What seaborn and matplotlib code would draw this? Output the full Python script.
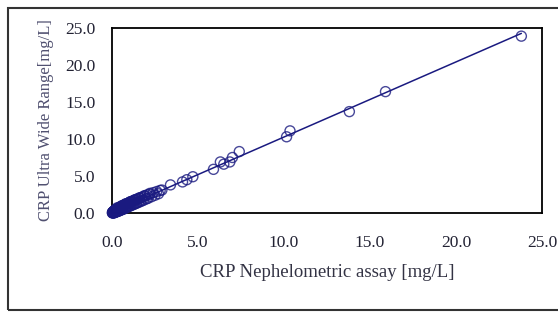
import numpy as np
import pandas as pd
import seaborn as sns
import matplotlib.pyplot as plt
from matplotlib.patches import Rectangle

# CRP values [mg/L]
nephelometric = [
    0.02, 0.03, 0.04, 0.05, 0.05, 0.06, 0.07, 0.08, 0.08, 0.09,
    0.10, 0.10, 0.11, 0.12, 0.13, 0.14, 0.15, 0.15, 0.16, 0.18,
    0.19, 0.20, 0.21, 0.22, 0.24, 0.25, 0.26, 0.28, 0.29, 0.30,
    0.32, 0.33, 0.35, 0.36, 0.38, 0.40, 0.41, 0.43, 0.45, 0.47,
    0.48, 0.50, 0.52, 0.55, 0.57, 0.58, 0.60, 0.62, 0.65, 0.68,
    0.70, 0.72, 0.75, 0.78, 0.80, 0.83, 0.85, 0.88, 0.90, 0.93,
    0.95, 0.98, 1.00, 1.03, 1.05, 1.08, 1.10, 1.15, 1.18, 1.20,
    1.25, 1.28, 1.30, 1.35, 1.40, 1.42, 1.45, 1.50, 1.55, 1.60,
    1.65, 1.70, 1.75, 1.80, 1.85, 1.90, 2.00, 2.05, 2.10, 2.20,
    2.30, 2.40, 2.50, 2.60, 2.70, 2.80, 2.90,
    0.30, 0.55, 0.80, 1.05, 1.30, 1.60, 1.90, 2.20,
    3.40, 4.10, 4.35, 4.70, 5.90, 6.30, 6.50, 6.85,
    7.00, 7.40, 10.15, 10.35, 13.80, 15.90, 23.80,
]
ultra_wide = [
    0.05, 0.00, 0.10, 0.02, 0.12, 0.06, 0.15, 0.04, 0.18, 0.10,
    0.00, 0.25, 0.14, 0.08, 0.30, 0.12, 0.05, 0.35, 0.20, 0.10,
    0.40, 0.15, 0.42, 0.18, 0.45, 0.15, 0.50, 0.20, 0.55, 0.25,
    0.20, 0.60, 0.30, 0.65, 0.28, 0.35, 0.70, 0.30, 0.75, 0.40,
    0.35, 0.85, 0.45, 0.80, 0.45, 0.90, 0.50, 1.00, 0.55, 1.05,
    0.55, 1.10, 0.65, 1.15, 0.70, 1.20, 0.75, 1.25, 0.80, 1.30,
    0.90, 1.35, 0.95, 1.45, 0.95, 1.50, 1.00, 1.55, 1.10, 1.60,
    1.15, 1.70, 1.20, 1.75, 1.30, 1.85, 1.35, 1.90, 1.45, 2.00,
    1.55, 2.10, 1.65, 2.20, 1.75, 2.30, 1.90, 2.45, 2.00, 2.55,
    2.20, 2.75, 2.40, 2.90, 2.60, 3.05, 3.10,
    0.70, 0.95, 1.25, 1.50, 1.75, 2.05, 2.35, 2.65,
    3.80, 4.20, 4.50, 4.90, 5.90, 6.90, 6.60, 6.90,
    7.50, 8.30, 10.30, 11.10, 13.70, 16.40, 23.90,
]

df = pd.DataFrame({"neph": nephelometric, "uwr": ultra_wide})

navy = "#1a1a80"
sns.set_theme(style="white")
plt.rcParams["font.family"] = ["Liberation Serif", "DejaVu Serif"]

fig = plt.figure(figsize=(5.58, 3.12), dpi=100)
ax = fig.add_axes([112 / 558, 1 - 213 / 312, 430 / 558, 185 / 312])

# outer frame of the original figure
fig.patches.append(Rectangle((8 / 558, 2 / 312), 1.2, 302 / 312,
                             transform=fig.transFigure, fill=False,
                             edgecolor="#333333", linewidth=1.5))

sns.regplot(data=df, x="neph", y="uwr", ax=ax, ci=None,
            scatter_kws=dict(s=52, facecolors="none", edgecolors=navy,
                             linewidths=1.0, clip_on=False, zorder=3),
            line_kws=dict(color=navy, linewidth=1.1))

ax.set_xlim(0, 25)
ax.set_ylim(0, 25)
ticks = [0, 5, 10, 15, 20, 25]
ax.set_xticks(ticks)
ax.set_yticks(ticks)
ax.set_xticklabels([f"{t:.1f}" for t in ticks])
ax.set_yticklabels([f"{t:.1f}" for t in ticks])
ax.tick_params(direction="in", length=5, width=1.2, color="black",
               labelsize=12.5, labelcolor="#222233")
ax.tick_params(axis="x", pad=16)
ax.tick_params(axis="y", pad=12)
for s in ax.spines.values():
    s.set_color("black")
    s.set_linewidth(1.3)

ax.set_xlabel("CRP Nephelometric assay [mg/L]", fontsize=13.5,
              color="#333344", labelpad=9)
ax.set_ylabel("CRP Ultra Wide Range[mg/L]", fontsize=12,
              color="#505070", labelpad=8)

fig.savefig("out.png", dpi=100)
